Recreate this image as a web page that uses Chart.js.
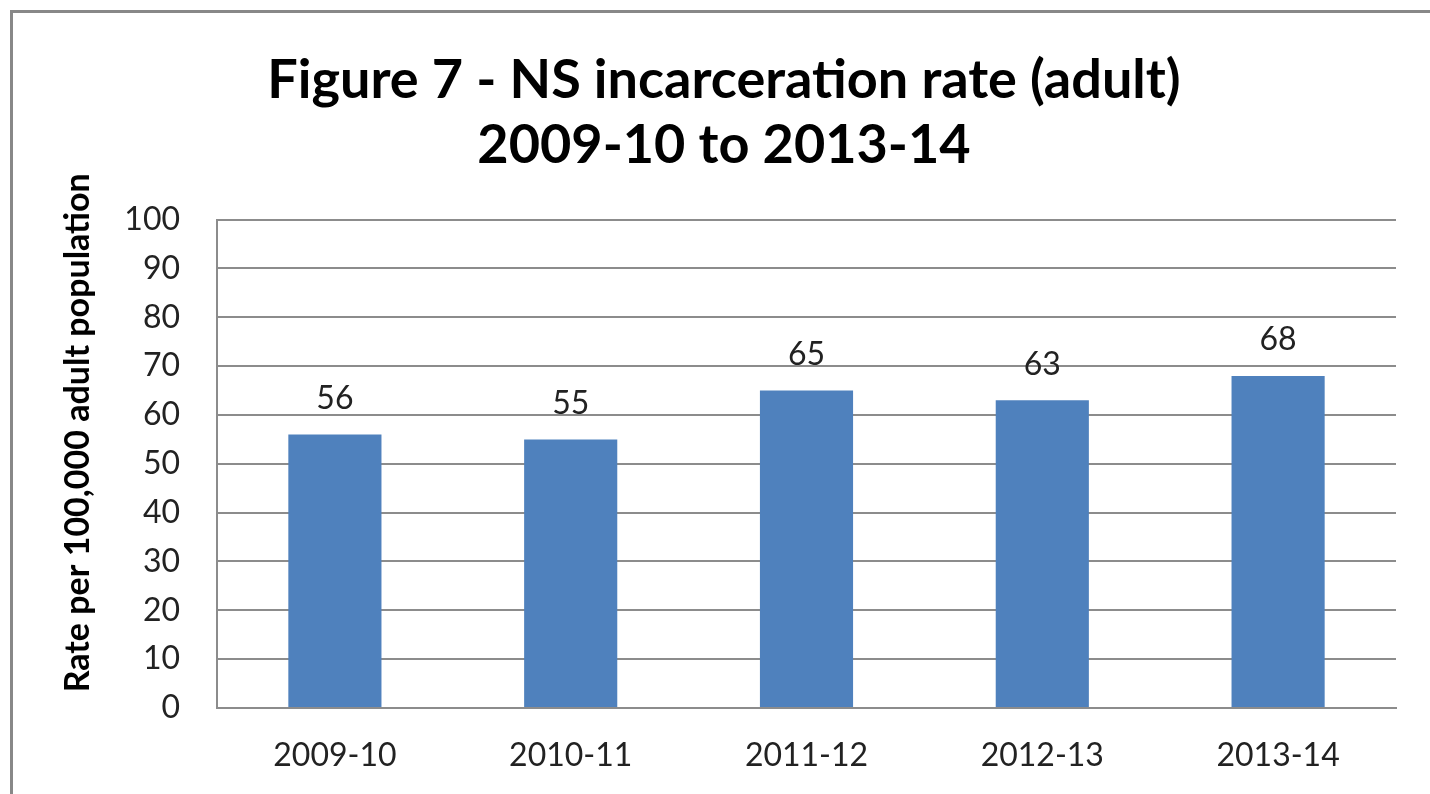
<!DOCTYPE html>
<html>
<head>
<meta charset="utf-8">
<script src="https://cdn.jsdelivr.net/npm/chart.js@4.4.1/dist/chart.umd.min.js"></script>
<style>
  body { margin: 0; background: #fff; overflow: hidden; }
  #wrap { position: relative; width: 1430px; height: 794px; overflow: hidden; }
  #frame { position: absolute; left: 10px; top: 10px; width: 1440px; height: 800px;
           border-left: 3px solid #888; border-top: 3px solid #888; box-sizing: border-box; }
  canvas { position: absolute; left: 0; top: 0; }
</style>
</head>
<body>
<div id="wrap">
  <div id="frame"></div>
  <canvas id="chart" width="1430" height="794"></canvas>
</div>
<script>
// values
years = ["2009-10", "2010-11", "2011-12", "2012-13", "2013-14"];
rates = [56, 55, 65, 63, 68];
titleLines = ["Figure 7 - NS incarceration rate (adult)", "2009-10 to 2013-14"];
yTitle = "Rate per 100,000 adult population";

// small plugin to write the value above each bar
const barLabels = {
  id: 'barLabels',
  afterDatasetsDraw(chart) {
    const ctx = chart.ctx;
    const meta = chart.getDatasetMeta(0);
    ctx.save();
    ctx.font = "32px Lato";
    ctx.fillStyle = "#222";
    ctx.textAlign = "center";
    ctx.textBaseline = "middle";
    meta.data.forEach(function(bar, i) {
      ctx.fillText(String(chart.data.datasets[0].data[i]), bar.x, bar.y - 36);
    });
    ctx.restore();
  }
};

// y axis title, the original sits a bit above the middle of the plot
const yTitlePlugin = {
  id: 'yTitlePlugin',
  afterDraw(chart) {
    const ctx = chart.ctx;
    const area = chart.chartArea;
    ctx.save();
    ctx.translate(78, (area.top + area.bottom) / 2 - 31);
    ctx.rotate(-Math.PI / 2);
    ctx.font = "bold 34px Lato";
    ctx.fillStyle = "#000";
    ctx.textAlign = "center";
    ctx.textBaseline = "middle";
    ctx.fillText(yTitle, 0, 0);
    ctx.restore();
  }
};

const data = {
  labels: years,
  datasets: [{
    label: "Rate",
    data: rates,
    backgroundColor: "#4F81BD",
    categoryPercentage: 1.0,
    barPercentage: 0.395,
  }]
};

const options = {
  responsive: false,
  animation: false,
  layout: { padding: { left: 52, right: 34, top: 0, bottom: 0 } },
  plugins: {
    legend: { display: false },
    tooltip: { enabled: false },
    title: {
      display: true,
      text: titleLines,
      color: "#000",
      font: { family: "Lato", size: 54, weight: "bold", lineHeight: 1.2 },
      padding: { top: 48, bottom: 42 }
    }
  },
  scales: {
    x: {
      grid: { display: false, drawTicks: false },
      border: { display: true, color: "#8c8c8c", width: 2 },
      ticks: { color: "#222", font: { family: "Lato", size: 32 }, padding: 28 },
      afterFit: function(scale) { scale.height = 86; }
    },
    y: {
      min: 0,
      max: 100,
      ticks: { stepSize: 10, color: "#222", font: { family: "Lato", size: 32 }, padding: 37 },
      grid: { color: "#8c8c8c", lineWidth: 2, drawTicks: false },
      border: { display: true, color: "#8c8c8c", width: 2 },
      afterFit: function(scale) { scale.width = 165; }
    }
  }
};

const ctx = document.getElementById('chart').getContext('2d');
myChart = new Chart(ctx, {
  type: 'bar',
  data: data,
  options: options,
  plugins: [barLabels, yTitlePlugin],
});
</script>
</body>
</html>
